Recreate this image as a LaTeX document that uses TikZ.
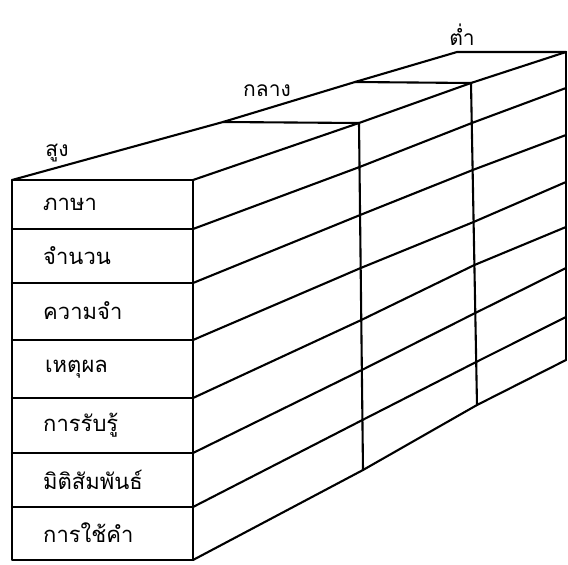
\documentclass[tikz,border=0pt]{standalone}
\usepackage{fontspec}
\newfontfamily\thaifont[Script=Thai]{Loma}
\begin{document}
\begin{tikzpicture}[x=1pt,y=-1pt,line join=round,line cap=round,
  edge/.style={line width=2.1pt},
  frontline/.style={line width=2.5pt},
  rowlbl/.style={font=\thaifont\fontsize{22}{24}\selectfont,anchor=west,inner sep=0pt},
  toplbl/.style={font=\thaifont\fontsize{21}{23}\selectfont,inner sep=0pt}]
\useasboundingbox (0,0) rectangle (568,565);
% top face
\draw[edge] (12,180) -- (223,122) -- (355,82) -- (457,52) -- (566,52);
\draw[edge] (223,122) -- (359,123);
\draw[edge] (355,82) -- (471,83);
% side face rows
\foreach \a/\b/\c/\d [count=\i from 0] in {180/123/83/52,229/167/123/88,283/215/170/135,340/268/222/182,398/320/265/227,453/370/313/268,507/420/362/317,560/470/405/360}{
  \pgfmathsetmacro{\xa}{359+4*\i/7}
  \pgfmathsetmacro{\xb}{471+6*\i/7}
  \draw[edge] (193,\a) -- (\xa,\b) -- (\xb,\c) -- (566,\d);
}
% side face columns
\draw[edge] (359,123) -- (363,470);
\draw[edge] (471,83) -- (477,405);
\draw[edge] (566,52) -- (566,360);
% front face
\draw[frontline] (12,180) rectangle (193,560);
\foreach \y in {229,283,340,398,453,507}{
  \draw[frontline] (12,\y) -- (193,\y);
}
% labels
\node[rowlbl] (r1) at (43,204) {ภาษา};
\node[rowlbl] (r2) at (43,256) {จำนวน};
\node[rowlbl] (r3) at (43,311) {ความจำ};
\node[rowlbl] (r4) at (45,369) {เหตุผล};
\node[rowlbl] (r5) at (43,425) {การรับรู้};
\node[rowlbl] (r6) at (43,480) {มิติสัมพันธ์};
\node[rowlbl] (r7) at (43,533) {การใช้คำ};
\node[toplbl] (high) at (57,153) {สูง};
\node[toplbl] (mid) at (267,91) {กลาง};
\node[toplbl] (low) at (462,35) {ต่ำ};
\end{tikzpicture}
\end{document}
